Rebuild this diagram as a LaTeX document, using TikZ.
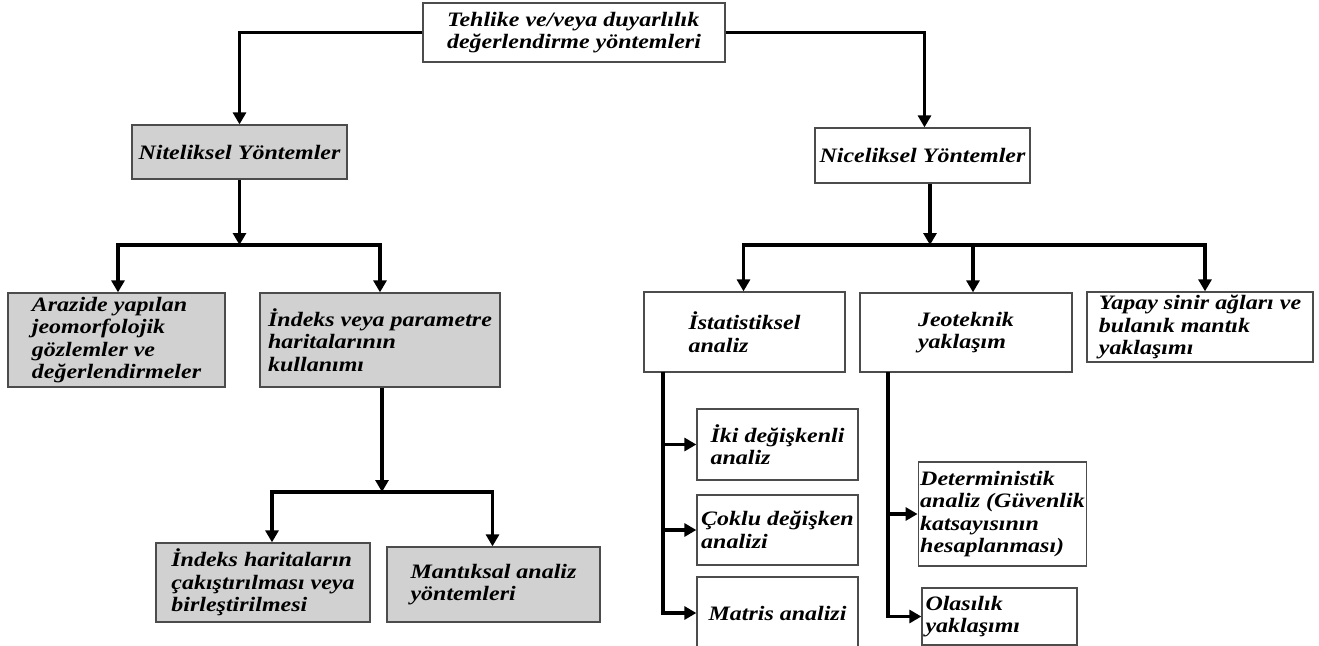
\documentclass[tikz,border=0pt]{standalone}
\usepackage{fontspec}
\setmainfont{Liberation Serif}[FakeStretch=1.17]
\usetikzlibrary{arrows.meta}
\tikzset{
  box/.style={draw=black!70, line width=1.3pt, inner sep=2pt, align=left,
    font=\fontsize{20.5}{22.5}\selectfont\bfseries\itshape},
  gbox/.style={box, fill=black!18},
  wbox/.style={box, fill=white},
  arr/.style={line width=3.2pt, -{Triangle[length=12pt,width=13pt]}}
}
\begin{document}
\begin{tikzpicture}[x=1pt,y=-1pt]
\useasboundingbox[fill=white] (0,0) rectangle (1319,645);
% nodes
\node[wbox, minimum width=302, minimum height=59] (top) at (574,32.5)
  {Tehlike ve/veya duyarlılık\\değerlendirme yöntemleri};
\node[gbox, minimum width=215, minimum height=54] (nit) at (239.5,152) {Niteliksel Yöntemler};
\node[wbox, minimum width=215, minimum height=55] (nic) at (922.5,155.5) {Niceliksel Yöntemler};
\node[gbox, minimum width=217, minimum height=94] (arz) at (116.5,340)
  {Arazide yapılan\\jeomorfolojik\\gözlemler ve\\değerlendirmeler};
\node[gbox, minimum width=240, minimum height=94] (ind) at (380,340)
  {İndeks veya parametre\\haritalarının\\kullanımı};
\node[gbox, minimum width=214, minimum height=79] (ih) at (263,582.5)
  {İndeks haritaların\\çakıştırılması veya\\birleştirilmesi};
\node[gbox, minimum width=213, minimum height=75] (man) at (493.5,584.5)
  {Mantıksal analiz\\yöntemleri};
\node[wbox, minimum width=201, minimum height=80] (ist) at (744.5,332)
  {İstatistiksel\\analiz};
\node[wbox, minimum width=212, minimum height=79] (jeo) at (966,332.5)
  {Jeoteknik\\yaklaşım};
\node[wbox, minimum width=226, minimum height=70] (yap) at (1200,327)
  {Yapay sinir ağları ve\\bulanık mantık\\yaklaşımı};
\node[wbox, minimum width=161, minimum height=71] (iki) at (777.5,444.5)
  {İki değişkenli\\analiz};
\node[wbox, minimum width=161, minimum height=70] (cok) at (777.5,530)
  {Çoklu değişken\\analizi};
\node[wbox, minimum width=161, minimum height=72] (mat) at (777.5,613)
  {Matris analizi};
\node[wbox, minimum width=161, minimum height=104] (det) at (1002.5,514)
  {Deterministik\\analiz (Güvenlik\\katsayısının\\hesaplanması)};
\node[wbox, minimum width=155, minimum height=57, text width=148] (ola) at (999.5,616.5)
  {Olasılık\\yaklaşımı};
% bus coordinates
\coordinate (b1) at (239.5,245);
\coordinate (b2) at (382,492);
\coordinate (b3) at (930,245);
\coordinate (s1) at (663,372);
\coordinate (s2) at (888,372);
% connectors
\draw[arr] (top.west) -| (nit.north);
\draw[arr] (top.east) -| ([xshift=2pt]nic.north);
\draw[arr] (nit.south) -- (b1);
\draw[arr] (b1) -| ([xshift=1.5pt]arz.north);
\draw[arr] (b1) -| (ind.north);
\draw[arr] (ind.south -| b2) -- (b2);
\draw[arr] (b2) -| ([xshift=9pt]ih.north);
\draw[arr] (b2) -| ([xshift=-1pt]man.north);
\draw[arr] (b3 |- nic.south) -- (b3);
\draw[arr] (b3) -| ([xshift=-1pt]ist.north);
\draw[arr] (b3) -| ([xshift=7pt]jeo.north);
\draw[arr] (b3) -| ([xshift=5pt]yap.north);
\draw[arr] (s1) |- (iki.west);
\draw[arr] (s1) |- (cok.west);
\draw[arr] (s1) |- (mat.west);
\draw[arr] (s2) |- (det.west);
\draw[arr] (s2) |- (ola.west);
\end{tikzpicture}
\end{document}
